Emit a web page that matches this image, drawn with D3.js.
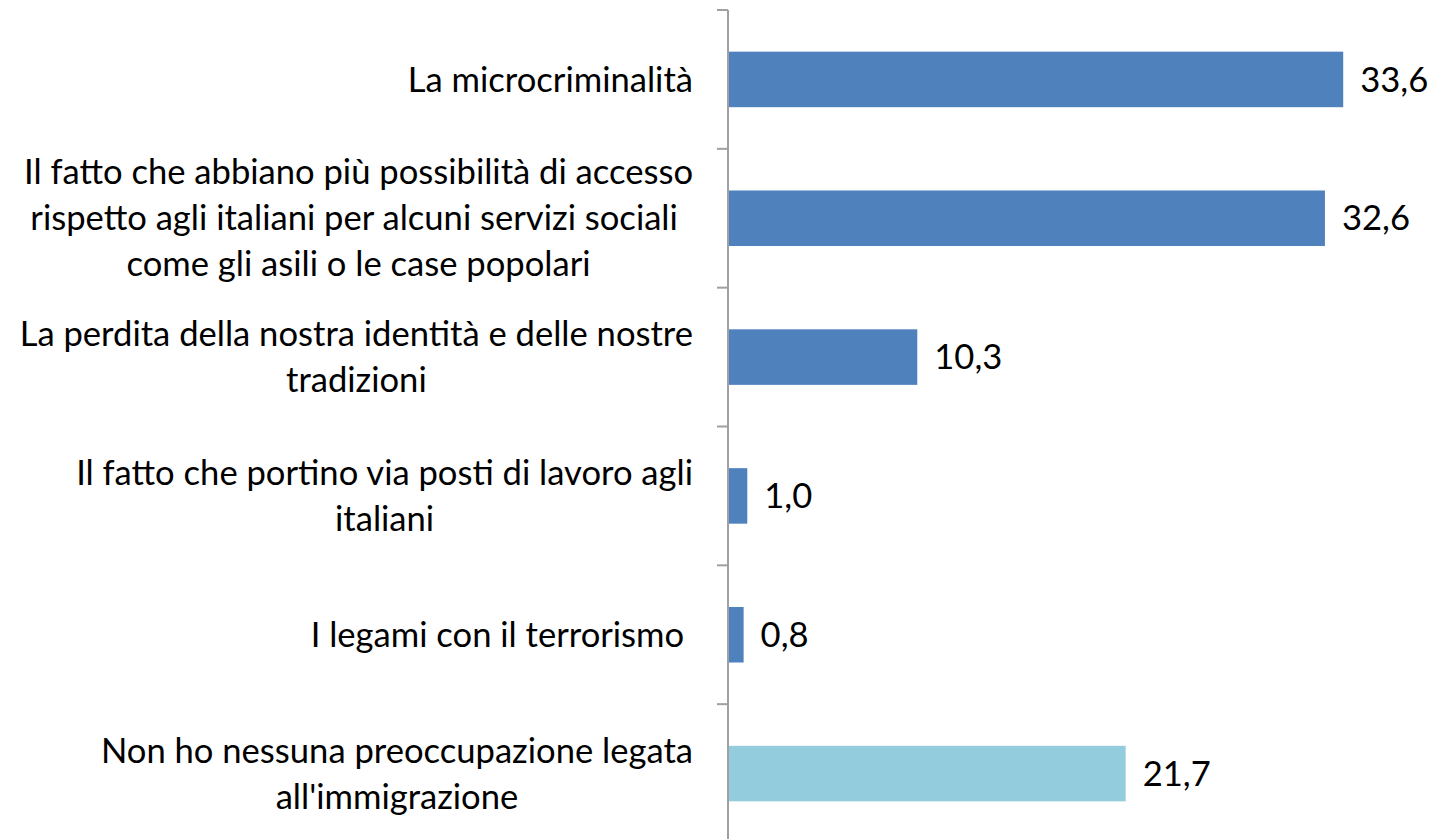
<!DOCTYPE html>
<html>
<head>
<meta charset="utf-8">
<script src="https://cdn.jsdelivr.net/npm/d3@7"></script>
<style>
  body { margin: 0; background: #fff; }
  text { font-family: Lato, "Open Sans", sans-serif; fill: #000; white-space: pre; }
</style>
</head>
<body>
<div id="chart"></div>
<script>
// categories (one array per wrapped label line)
const categories = [
    ["La microcriminalità"],
    ["Il fatto che abbiano più possibilità di accesso", "rispetto agli italiani per alcuni servizi sociali ", "come gli asili o le case popolari"],
    ["La perdita della nostra identità e delle nostre", "tradizioni"],
    ["Il fatto che portino via posti di lavoro agli", "italiani"],
    ["I legami con il terrorismo "],
    ["Non ho nessuna preoccupazione legata", "all'immigrazione"]
];
const values = [33.6, 32.6, 10.3, 1.0, 0.8, 21.7];
const barColors = ["#4F81BD", "#4F81BD", "#4F81BD", "#4F81BD", "#4F81BD", "#93CDDD"];

const width = 1431, height = 839;
const fontSize = 34.6;
const lineH = 46;
const labelRight = 693;

const svg = d3.select("#chart").append("svg")
    .attr("width", width)
    .attr("height", height);

const ids = d3.range(values.length);

const x = d3.scaleLinear()
    .domain([0, 40])
    .range([729, 729 + 40 * 18.28]);

const y = d3.scaleBand()
    .domain(ids)
    .range([10, 843])
    .paddingInner(0.6)
    .paddingOuter(0.3);

// bars
svg.append("g")
    .selectAll("rect")
    .data(ids)
    .enter()
    .append("rect")
        .attr("x", x(0))
        .attr("y", d => y(d))
        .attr("width", d => x(values[d]) - x(0))
        .attr("height", y.bandwidth())
        .attr("fill", d => barColors[d]);

// axis line with ticks between categories
const axisX = 728;
const step = y.step();
const ax = svg.append("g").attr("stroke", "#A0A0A0").attr("stroke-width", 2);
ax.append("line")
    .attr("x1", axisX).attr("x2", axisX)
    .attr("y1", 10).attr("y2", 843);
d3.range(values.length).forEach(i => {
    const ty = 10 + i * step;
    ax.append("line")
        .attr("x1", axisX - 11).attr("x2", axisX)
        .attr("y1", ty).attr("y2", ty);
});

// category labels: lines centred within a block that is right-aligned at the axis
const labels = svg.append("g")
    .selectAll("text")
    .data(ids)
    .enter()
    .append("text")
        .attr("text-anchor", "middle")
        .attr("font-size", fontSize)
        .attr("xml:space", "preserve");

labels.each(function(d){
    const lines = categories[d];
    const cy = y(d) + y.bandwidth() / 2;
    const top = cy - (lines.length - 1) * lineH / 2;
    const spans = d3.select(this).selectAll("tspan")
        .data(lines)
        .enter()
        .append("tspan")
            .attr("y", (l, i) => top + i * lineH)
            .attr("dy", "0.35em")
            .text(l => l);
    let maxW = 0;
    spans.each(function(){ maxW = Math.max(maxW, this.getComputedTextLength()); });
    spans.attr("x", labelRight - maxW / 2);
});

// value labels
svg.append("g")
    .selectAll("text")
    .data(ids)
    .enter()
    .append("text")
        .attr("x", d => x(values[d]) + 17)
        .attr("y", d => y(d) + y.bandwidth() / 2)
        .attr("dy", "0.35em")
        .attr("font-size", fontSize)
        .text(d => d3.format(".1f")(values[d]).replace(".", ","));
</script>
</body>
</html>
